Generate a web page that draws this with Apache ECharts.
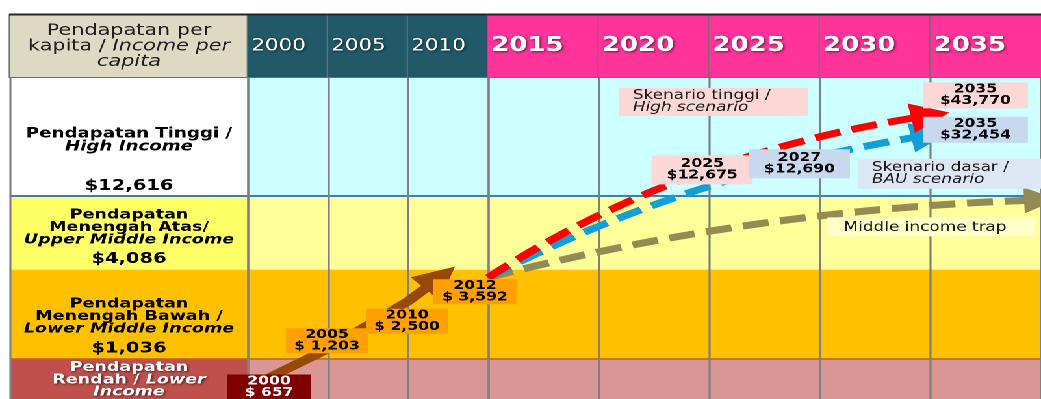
<!DOCTYPE html>
<html>
<head>
<meta charset="utf-8">
<title>Pendapatan per kapita</title>
<script src="https://cdn.jsdelivr.net/npm/echarts@6/dist/echarts.min.js"></script>
<style>
  html, body { margin: 0; padding: 0; background: #ffffff; overflow: hidden; width: 1041px; height: 399px; }
  /* the chart is laid out on a narrower canvas and widened, giving the broad lettering of the slide */
  #chart { width: 801px; height: 399px; transform: scaleX(1.299625); transform-origin: 0 0; }
</style>
</head>
<body>
<div id="chart"></div>
<script>
// ---- data -------------------------------------------------------------
// income-group thresholds, USD per capita (low | lower-middle | upper-middle | high)
const thresholds = [1036, 4086, 12616];

// historical income per capita
const histYears  = [2000, 2005, 2010, 2012];
const histValues = [657, 1203, 2500, 3592];

// projections start at the beginning of the 2015 column
const projStart = [2015, 3592];

// high scenario
const highYears  = [2025, 2035];
const highValues = [12675, 43770];

// business-as-usual scenario
const bauYears  = [2027, 2035];
const bauValues = [12690, 32454];

// middle income trap path, end of the 2035 column
const trapEnd = [2040, 11900];

// column headings
const earlyColumns = ['2000', '2005', '2010'];
const lateColumns  = ['2015', '2020', '2025', '2030', '2035'];
const COL_STEP = 5;

// ---- layout helpers -----------------------------------------------------
const STRETCH = 1041 / 801;
const u = v => v / STRETCH;           // page pixels (horizontal) -> chart units
const FONT = 'DejaVu Sans';
const Y_MIN = 555, Y_MAX = 79000;      // vertical extent of the table body
const TOP = 77;
const COL_LINE = '#808080';

const usd = v => '$' + v.toLocaleString('en-US');
const bandEdges = [
  [Y_MIN, thresholds[0]],
  [thresholds[0], thresholds[1]],
  [thresholds[1], thresholds[2]],
  [thresholds[2], Y_MAX]
];

const labelColors = ['#c0504d', '#ffc000', '#ffff66', '#ffffff'];
const cellColors  = ['#d99694', '#ffc000', '#ffff99', '#ccffff'];

// row captions, bottom to top
const rowCaptions = [
  '{w|Pendapatan}\n{w|Rendah / }{wi|Lower}\n{wi|Income}',
  '{b|Pendapatan}\n{b|Menengah Bawah /}\n{bi|Lower Middle Income}\n{g2| }\n{v|' + usd(thresholds[0]) + '}',
  '{b|Pendapatan}\n{b|Menengah Atas/}\n{bi|Upper Middle Income}\n{g2| }\n{v|' + usd(thresholds[1]) + '}',
  '{bh|Pendapatan Tinggi /}\n{bhi|High Income}\n{g1| }\n{v|' + usd(thresholds[2]) + '}'
];

const whiteShadow = {
  textShadowColor: 'rgba(0,0,0,0.6)', textShadowBlur: 2, textShadowOffsetX: 1, textShadowOffsetY: 1
};
const rowRich = {
  b:   { fontFamily: FONT, fontWeight: 'bold', fontSize: 13.5, lineHeight: 12.5, color: '#000' },
  bi:  { fontFamily: FONT, fontWeight: 'bold', fontStyle: 'italic', fontSize: 13.5, lineHeight: 12.5, color: '#000' },
  bh:  { fontFamily: FONT, fontWeight: 'bold', fontSize: 14, lineHeight: 13, color: '#000' },
  bhi: { fontFamily: FONT, fontWeight: 'bold', fontStyle: 'italic', fontSize: 14, lineHeight: 13, color: '#000' },
  v:   { fontFamily: FONT, fontWeight: 'bold', fontSize: 15, lineHeight: 16, color: '#000' },
  g1:  { fontSize: 8, lineHeight: 25 },
  g2:  { fontSize: 4, lineHeight: 5 },
  w:   Object.assign({ fontFamily: FONT, fontWeight: 'bold', fontSize: 13.5, lineHeight: 12.2, color: '#fff' }, whiteShadow),
  wi:  Object.assign({ fontFamily: FONT, fontWeight: 'bold', fontStyle: 'italic', fontSize: 13.5, lineHeight: 12.2, color: '#fff' }, whiteShadow)
};

function bandSeries(gridIndex, xAxisIndex, colors, withCaptions) {
  return {
    type: 'line', xAxisIndex, yAxisIndex: gridIndex, data: [], silent: true, z: 1,
    markArea: {
      silent: true, z: 1,
      data: bandEdges.map((e, k) => [{
        yAxis: e[0],
        itemStyle: { color: colors[k], opacity: 1 },
        label: withCaptions ? {
          show: true,
          position: k === 0 ? 'insideTop' : 'insideBottom',
          distance: k === 0 ? 3 : 2,
          formatter: rowCaptions[k],
          rich: rowRich
        } : { show: false }
      }, { yAxis: e[1] }])
    },
    markLine: {
      silent: true, z: 2, symbol: 'none', label: { show: false },
      emphasis: { disabled: true },
      data: [
        { yAxis: thresholds[0], lineStyle: { color: '#b8651f', width: 1.5, type: 'solid' } },
        { yAxis: thresholds[1], lineStyle: { color: '#ffe48f', width: 1.2, type: 'solid' } },
        { yAxis: thresholds[2], lineStyle: { color: '#3d7cc4', width: 2, type: 'solid' } }
      ]
    }
  };
}

// value axis carrying the years of a block of columns (draws the column rules)
function yearAxis(gridIndex, columns) {
  return {
    gridIndex, type: 'value', position: 'bottom', z: 10,
    min: +columns[0], max: +columns[columns.length - 1] + COL_STEP, interval: COL_STEP,
    axisLine: { show: false }, axisTick: { show: false }, axisLabel: { show: false },
    splitLine: { show: true, lineStyle: { color: COL_LINE, width: 1.6 } }
  };
}

// heading cells of a block of columns
function headAxis(gridIndex, columns, colWidth, bg, fontSize, weight) {
  return {
    gridIndex, type: 'category', position: 'top', z: 11, boundaryGap: true,
    data: columns,
    axisLine: { show: false }, axisTick: { show: false }, splitLine: { show: false },
    axisLabel: {
      show: true, interval: 0, hideOverlap: false,
      margin: 0, align: 'center', verticalAlign: 'bottom',
      width: colWidth - 3, padding: [0, 0.5, 0, 2.5],
      backgroundColor: bg, borderColor: '#6e6e6e', borderWidth: 1,
      formatter: v => '{t|' + v + '}',
      rich: {
        t: {
          align: 'left', lineHeight: 62,
          color: '#ffffff', fontFamily: FONT, fontSize, fontWeight: weight,
          textShadowColor: 'rgba(0,0,0,0.55)', textShadowBlur: 2, textShadowOffsetX: 1, textShadowOffsetY: 1
        }
      }
    }
  };
}

// ---- label styling for the marked values ----------------------------------
const ORANGE = '#ff9f00';
const PINK = '#fdd6d6';
const PALE_BLUE = '#c8d8ee';

const valueFont = { fontFamily: FONT, fontWeight: 'bold', fontSize: 12, lineHeight: 11.5 };

const histLabels = [
  { offset: [u(21), -1],  backgroundColor: '#7f0000', color: '#ffffff', width: u(84) },
  { offset: [u(-1), -8],  backgroundColor: ORANGE,    color: '#000000', width: u(82) },
  { offset: [u(-1), 20],  backgroundColor: ORANGE,    color: '#000000', width: u(82) },
  { offset: [u(35), 14],  backgroundColor: ORANGE,    color: '#000000', width: u(84) }
];

const highLabels = [
  { offset: [u(-7), -26],  width: u(101), padding: [3, 0] },
  { offset: [u(45), -20],  width: u(105), padding: [1.5, 0] }
];
const bauLabels = [
  { offset: [u(46), -32],  width: u(101), padding: [3, 0] },
  { offset: [u(45), -5],   width: u(105), padding: [1.5, 0] }
];

const nameRich = {
  n:  { fontFamily: FONT, fontSize: 13, lineHeight: 12, color: '#1a1a1a', align: 'left' },
  ni: { fontFamily: FONT, fontSize: 13, lineHeight: 12, color: '#1a1a1a', fontStyle: 'italic', align: 'left' }
};

const hiddenSymbol = { color: 'rgba(0,0,0,0)', opacity: 1 };

function pointSeries(gridIndex, years, values, styles, bg, text, name) {
  const s = {
    type: 'scatter', xAxisIndex: gridIndex, yAxisIndex: gridIndex, z: 30, silent: true,
    symbol: 'circle', symbolSize: 2,
    itemStyle: hiddenSymbol,
    data: years.map((yr, i) => ({
      value: [yr, values[i]],
      label: Object.assign({
        show: true, position: 'inside', align: 'center', opacity: 1,
        backgroundColor: bg, color: '#000000', padding: [1, 0],
        formatter: text(yr, values[i])
      }, valueFont, styles[i])
    }))
  };
  if (name) s.markPoint = name;
  return s;
}

function nameMark(coord, offset, width, bg, formatter, padding) {
  return {
    silent: true, z: 35, symbol: 'circle', symbolSize: 1,
    itemStyle: hiddenSymbol,
    data: [{
      coord,
      label: {
        show: true, position: 'inside', offset, opacity: 1,
        width, padding, backgroundColor: bg,
        formatter, rich: nameRich
      }
    }]
  };
}

function curve(color, to, curveness, size) {
  return {
    type: 'lines', coordinateSystem: 'cartesian2d', xAxisIndex: 2, yAxisIndex: 2,
    z: 20, silent: true, polyline: false,
    symbol: ['none', 'triangle'], symbolSize: size,
    symbolOffset: [0, [0, size / 2]],
    lineStyle: { color, width: 7, type: [20, 9], curveness, opacity: 1 },
    itemStyle: { color, opacity: 1 },
    data: [{ coords: [projStart, to] }]
  };
}

const option = {
  animation: false,
  backgroundColor: '#ffffff',
  grid: [
    { left: u(10),  width: u(238), top: TOP, bottom: 0, containLabel: false, outerBoundsMode: 'none' },
    { left: u(248), width: u(240), top: TOP, bottom: 0, containLabel: false, outerBoundsMode: 'none' },
    { left: u(488), width: u(553), top: TOP, bottom: 0, containLabel: false, outerBoundsMode: 'none' }
  ],
  // rule along the top of the heading row
  graphic: [{
    type: 'rect', silent: true, z: 50,
    shape: { x: u(9), y: 13.5, width: u(1032), height: 2 },
    style: { fill: '#262626' }
  }],
  xAxis: [
    {
      gridIndex: 0, type: 'category', position: 'top', z: 10, boundaryGap: true,
      data: ['Pendapatan per kapita / Income per capita'],
      axisLine: { show: false }, axisTick: { show: false },
      splitLine: { show: true, interval: 0, lineStyle: { color: COL_LINE, width: 1.6 } },
      axisLabel: {
        interval: 0, margin: 0, align: 'center', verticalAlign: 'bottom', hideOverlap: false,
        width: u(238) - 2, padding: [7.5, 1, 7.5, 1],
        backgroundColor: '#ddd9c3', borderColor: '#6e6e6e', borderWidth: 1,
        formatter: () => '{r|Pendapatan per}\n{r|kapita / }{i|Income per}\n{i|capita}',
        rich: {
          r: { fontFamily: FONT, fontSize: 16, lineHeight: 15.5, color: '#1f1f1f' },
          i: { fontFamily: FONT, fontSize: 16, lineHeight: 15.5, color: '#1f1f1f', fontStyle: 'italic' }
        }
      }
    },
    yearAxis(1, earlyColumns),
    yearAxis(2, lateColumns),
    headAxis(1, earlyColumns, u(240 / earlyColumns.length), '#215968', 16.5, 'normal'),
    headAxis(2, lateColumns, u(553 / lateColumns.length), '#ff3399', 20, 'bold')
  ],
  yAxis: [0, 1, 2].map(i => ({
    gridIndex: i, type: 'log', logBase: 10, min: Y_MIN, max: Y_MAX, show: false
  })),
  series: [
    bandSeries(0, 0, labelColors, true),
    bandSeries(1, 1, cellColors, false),
    bandSeries(2, 2, cellColors, false),

    // historical path
    {
      type: 'line', xAxisIndex: 1, yAxisIndex: 1, z: 20, silent: true,
      symbol: 'none', smooth: false,
      lineStyle: { color: '#984807', width: 8.5, cap: 'butt' },
      data: histYears.map((yr, i) => [yr, histValues[i]])
    },
    {
      type: 'lines', coordinateSystem: 'cartesian2d', xAxisIndex: 1, yAxisIndex: 1,
      z: 20, silent: true,
      symbol: ['none', 'triangle'], symbolSize: 32, symbolOffset: [0, [0, 16]],
      lineStyle: { color: '#984807', width: 8.5, opacity: 1, curveness: 0 },
      itemStyle: { color: '#984807', opacity: 1 },
      data: [{ coords: [[histYears[2], histValues[2]], [histYears[3], histValues[3]]] }]
    },
    pointSeries(1, histYears, histValues, histLabels, ORANGE,
      (yr, v) => yr + '\n$ ' + v.toLocaleString('en-US')),

    // projections
    curve('#948a54', trapEnd, 0.072, 26),
    curve('#129ed6', [bauYears[1], bauValues[1]], 0.1, 30),
    curve('#ff0000', [highYears[1], highValues[1]], 0.13, 30),

    pointSeries(2, highYears, highValues, highLabels, PINK,
      (yr, v) => yr + '\n' + usd(v),
      nameMark([highYears[0], highValues[0]], [u(4), -94], u(189) - u(24), PINK,
        '{n|Skenario tinggi /}\n{ni|High scenario}', [2, u(10), 2, u(14)])),
    pointSeries(2, bauYears, bauValues, bauLabels, PALE_BLUE,
      (yr, v) => yr + '\n' + usd(v),
      nameMark([bauYears[0], bauValues[0]], [u(198), -22], u(187) - u(24), '#dde6f3',
        '{n|Skenario dasar /}\n{ni|BAU scenario}', [3, u(10), 3, u(14)])),

    // label for the middle income trap path
    {
      type: 'scatter', xAxisIndex: 2, yAxisIndex: 2, z: 30, silent: true,
      symbol: 'circle', symbolSize: 2, itemStyle: hiddenSymbol,
      data: [{
        value: trapEnd,
        label: {
          show: true, position: 'inside', offset: [u(-110), 27], opacity: 1,
          width: u(207) - u(22), padding: [4, u(6), 3, u(16)],
          backgroundColor: '#ffffc8',
          formatter: '{n|Middle income trap}', rich: nameRich
        }
      }]
    }
  ]
};

const chart = echarts.init(document.getElementById('chart'), null, { renderer: 'canvas', devicePixelRatio: 2 });
chart.setOption(option);
</script>
</body>
</html>
